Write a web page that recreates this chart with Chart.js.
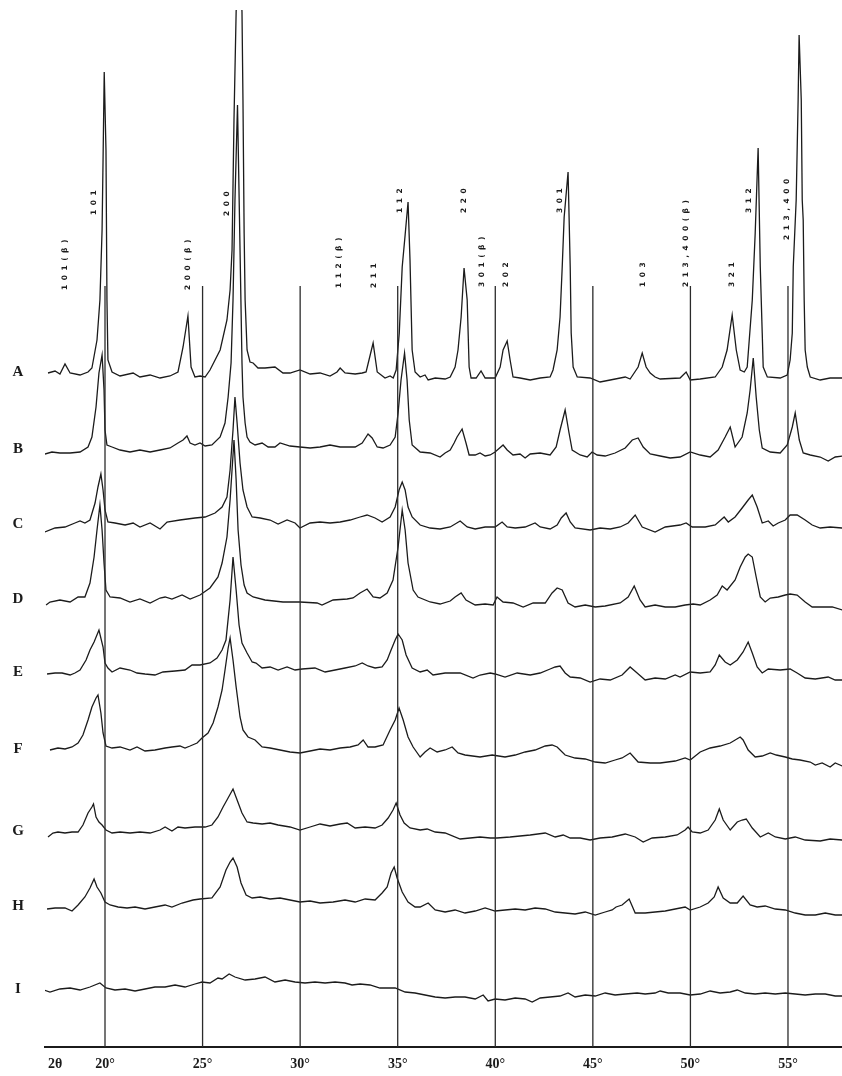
<!DOCTYPE html>
<html>
<head>
<meta charset="utf-8">
<script src="https://cdn.jsdelivr.net/npm/chart.js@4.4.0/dist/chart.umd.min.js"></script>
<style>
  html, body { margin: 0; background: #fff; }
  #xrd { display: block; }
</style>
</head>
<body>
<canvas id="xrd" width="842" height="1076"></canvas>
<script>
// X-ray diffraction patterns A–I, stacked; counts (arbitrary units)

const sampleNames = ['A', 'B', 'C', 'D', 'E', 'F', 'G', 'H', 'I'];
const offsets     = [674, 597, 522, 447, 374, 297, 215, 140, 57];

const gridAngles = [20, 25, 30, 35, 40, 45, 50, 55];
const gridTop    = 761;
const tickAngles = [17.44, 20, 25, 30, 35, 40, 45, 50, 55];

const peakNames  = ['101(β)', '101', '200(β)', '200', '112(β)', '211', '112', '220', '301(β)', '202',
                    '301', '103', '213,400(β)', '321', '312', '213,400'];
const peakAngles = [17.95, 19.44, 24.25, 26.25, 32.0, 33.79, 35.12, 38.40, 39.33, 40.56,
                    43.32, 47.58, 49.78, 52.14, 53.01, 54.96];
const peakLevels = [757, 832, 757, 831, 759, 759, 834, 834, 760, 760,
                    834, 760, 760, 760, 834, 807];

// [2θ, counts]
const scanA = [[17.08,0],[17.44,2],[17.69,-1],[17.95,9],[18.21,0],[18.72,-2],[19.13,1],[19.33,5],[19.59,33],[19.74,73],
  [19.85,143],[19.90,213],[19.96,301],[20.05,223],[20.10,73],[20.15,13],[20.36,1],[20.77,-3],[21.44,0],[21.79,-4],
  [22.31,-2],[22.82,-5],[23.33,-3],[23.74,1],[24.00,26],[24.25,57],[24.41,6],[24.61,-4],[24.87,-3],[25.13,-4],
  [25.38,3],[25.90,23],[26.25,53],[26.41,83],[26.51,123],[26.61,253],[26.72,361],[26.87,433],[27.02,361],[27.07,273],
  [27.13,140],[27.18,73],[27.28,23],[27.43,11],[27.59,10],[27.84,5],[28.20,5],[28.71,6],[29.12,0],[29.48,0],
  [29.99,3],[30.51,-1],[31.02,0],[31.53,-3],[31.89,1],[32.05,5],[32.30,0],[32.82,-1],[33.18,0],[33.38,1],
  [33.59,18],[33.74,30],[33.95,1],[34.35,-5],[34.61,-3],[34.77,-5],[34.92,3],[35.08,40],[35.23,106],[35.38,138],
  [35.53,171],[35.63,113],[35.74,23],[35.89,1],[36.15,-4],[36.40,-2],[36.56,-7],[36.92,-5],[37.43,-6],[37.69,-4],
  [37.94,6],[38.09,23],[38.25,56],[38.40,105],[38.56,73],[38.66,6],[38.76,-5],[39.02,-5],[39.27,2],[39.48,-5],
  [39.99,-5],[40.25,6],[40.40,23],[40.61,32],[40.76,13],[40.91,-4],[41.27,-5],[41.79,-7],[42.30,-5],[42.81,-4],
  [42.96,3],[43.17,23],[43.32,56],[43.43,106],[43.53,156],[43.73,201],[43.84,106],[43.89,40],[43.99,6],[44.20,-4],
  [44.86,-5],[45.37,-9],[45.89,-7],[46.66,-4],[46.91,-6],[47.32,6],[47.53,20],[47.73,6],[47.94,0],[48.19,-4],
  [48.45,-6],[49.47,-5],[49.78,1],[49.99,-7],[50.50,-6],[51.27,-4],[51.63,6],[51.88,23],[52.14,58],[52.35,23],
  [52.55,3],[52.76,1],[52.91,6],[53.17,73],[53.32,140],[53.47,225],[53.58,106],[53.68,40],[53.73,6],[53.94,-4],
  [54.60,-5],[54.96,-2],[55.11,13],[55.22,40],[55.27,106],[55.42,173],[55.52,273],[55.57,338],[55.68,273],[55.73,173],
  [55.78,153],[55.83,73],[55.88,23],[55.99,6],[56.14,-4],[56.65,-7],[57.16,-5],[57.78,-5]];

const scanB = [[16.92,-4],[17.28,-2],[17.69,-3],[18.21,-3],[18.72,-2],[19.13,3],[19.33,13],[19.54,43],[19.69,77],[19.85,95],
  [19.95,60],[20.00,20],[20.10,5],[20.36,3],[20.77,0],[21.28,-2],[21.79,0],[22.31,-2],[22.82,0],[23.33,2],
  [23.74,7],[24.00,10],[24.20,14],[24.36,7],[24.61,5],[24.87,7],[25.13,4],[25.48,5],[25.90,13],[26.15,27],
  [26.31,53],[26.46,87],[26.56,150],[26.66,250],[26.79,345],[26.92,200],[27.02,87],[27.07,53],[27.18,27],[27.28,13],
  [27.43,8],[27.69,5],[28.05,7],[28.36,3],[28.71,3],[28.97,7],[29.48,4],[29.99,3],[30.51,2],[31.02,3],
  [31.53,5],[32.05,3],[32.82,3],[33.18,7],[33.48,16],[33.69,12],[33.95,3],[34.25,2],[34.61,5],[34.87,13],
  [35.02,37],[35.17,70],[35.35,97],[35.48,70],[35.59,30],[35.74,5],[36.15,-2],[36.66,-3],[37.17,-7],[37.43,-3],
  [37.69,0],[37.89,7],[38.04,13],[38.30,21],[38.50,7],[38.66,-5],[38.97,-5],[39.22,-3],[39.48,-6],[39.74,-5],
  [39.99,-2],[40.40,5],[40.61,0],[40.91,-5],[41.27,-4],[41.53,-8],[41.79,-4],[42.30,-3],[42.81,-5],[43.12,3],
  [43.32,20],[43.58,40],[43.78,17],[43.94,0],[44.35,-5],[44.71,-7],[44.96,-2],[45.22,-5],[45.63,-6],[46.14,-3],
  [46.66,2],[47.02,10],[47.32,12],[47.58,3],[47.94,-4],[48.45,-6],[48.96,-8],[49.47,-7],[49.99,-2],[50.50,-5],
  [51.01,-7],[51.42,0],[51.78,13],[52.04,23],[52.29,3],[52.65,13],[52.91,37],[53.06,60],[53.22,92],[53.37,53],
  [53.53,20],[53.68,2],[54.09,-2],[54.60,-3],[54.96,5],[55.22,23],[55.37,37],[55.58,10],[55.78,-3],[56.14,-5],
  [56.65,-7],[57.06,-11],[57.42,-7],[57.78,-6]];

const scanC = [[16.92,-7],[17.44,-3],[17.95,-2],[18.46,2],[18.72,4],[18.97,2],[19.23,5],[19.49,22],[19.64,38],[19.79,51],
  [19.90,35],[20.00,15],[20.15,3],[20.51,2],[21.03,0],[21.44,2],[21.79,-2],[22.31,2],[22.82,-4],[23.18,3],
  [23.84,5],[24.61,7],[25.13,8],[25.64,12],[26.00,18],[26.25,28],[26.41,55],[26.56,95],[26.66,128],[26.77,102],
  [26.92,62],[27.07,35],[27.28,18],[27.54,8],[27.95,7],[28.46,5],[28.87,1],[29.33,5],[29.74,2],[29.99,-3],
  [30.51,2],[31.02,3],[31.53,2],[32.05,3],[32.56,5],[33.07,8],[33.43,10],[33.84,7],[34.20,3],[34.61,8],
  [34.87,18],[35.07,35],[35.23,43],[35.38,35],[35.53,18],[35.74,8],[36.15,0],[36.66,-3],[37.17,-4],[37.69,-2],
  [38.20,4],[38.56,-2],[38.97,-4],[39.48,-2],[39.99,-2],[40.35,3],[40.61,-2],[41.02,-3],[41.53,-2],[42.04,2],
  [42.30,-2],[42.81,-4],[43.17,0],[43.38,7],[43.63,12],[43.84,3],[44.09,-3],[44.86,-5],[45.37,-3],[45.89,-4],
  [46.40,-2],[46.81,2],[47.17,10],[47.53,-2],[48.19,-7],[48.71,-2],[49.47,0],[49.78,2],[50.09,-2],[50.76,-2],
  [51.27,0],[51.73,8],[51.94,3],[52.29,8],[52.65,17],[52.96,25],[53.17,30],[53.42,18],[53.68,2],[53.99,4],
  [54.24,-1],[54.50,2],[54.86,5],[55.11,10],[55.47,10],[55.88,5],[56.24,0],[56.65,-3],[57.16,-2],[57.78,-3]];

const scanD = [[16.98,-5],[17.18,-2],[17.69,0],[18.21,-2],[18.62,3],[18.97,3],[19.23,17],[19.44,43],[19.59,70],[19.74,95],
  [19.85,70],[19.95,37],[20.05,10],[20.26,3],[20.77,2],[21.28,-2],[21.79,1],[22.31,-3],[22.82,2],[23.08,3],
  [23.43,1],[23.95,5],[24.36,1],[24.87,5],[25.38,12],[25.79,23],[26.00,37],[26.25,63],[26.41,100],[26.51,130],
  [26.61,160],[26.72,120],[26.82,70],[26.97,35],[27.13,15],[27.28,7],[27.59,3],[28.20,0],[29.12,-2],[29.99,-2],
  [30.87,-3],[31.12,-5],[31.69,0],[32.41,1],[32.71,2],[33.07,7],[33.43,11],[33.74,3],[34.09,2],[34.46,7],
  [34.76,20],[35.02,53],[35.23,90],[35.38,70],[35.53,37],[35.79,10],[36.04,3],[36.66,-2],[37.17,-4],[37.69,-1],
  [37.94,3],[38.25,7],[38.50,0],[38.97,-5],[39.48,-4],[39.89,-5],[40.09,3],[40.40,-2],[40.91,-3],[41.43,-7],
  [41.94,-3],[42.56,-3],[42.91,7],[43.17,12],[43.43,10],[43.73,-3],[44.09,-7],[44.61,-5],[45.12,-7],[45.63,-6],
  [46.40,-3],[46.81,3],[47.12,14],[47.42,0],[47.68,-7],[48.19,-5],[48.71,-7],[49.22,-7],[49.73,-5],[50.14,-4],
  [50.50,-5],[51.01,0],[51.37,5],[51.63,14],[51.88,10],[52.29,20],[52.55,33],[52.81,43],[52.96,46],[53.17,43],
  [53.37,23],[53.58,3],[53.83,-2],[54.09,2],[54.50,3],[54.86,5],[55.11,6],[55.47,5],[55.88,-2],[56.24,-7],
  [56.91,-7],[57.27,-7],[57.78,-10]];

const scanE = [[17.03,-1],[17.44,0],[17.80,0],[18.21,-2],[18.46,0],[18.72,3],[19.03,13],[19.23,23],[19.44,31],[19.69,43],
  [19.90,26],[20.00,10],[20.15,5],[20.36,1],[20.77,5],[21.28,3],[21.64,0],[22.05,-1],[22.56,-2],[22.97,1],
  [23.59,2],[24.10,3],[24.46,8],[24.87,8],[25.38,10],[25.74,15],[26.00,23],[26.20,33],[26.41,73],[26.56,116],
  [26.72,83],[26.87,48],[27.02,30],[27.28,20],[27.54,11],[27.74,10],[28.05,5],[28.46,6],[28.87,3],[29.33,6],
  [29.74,3],[30.10,4],[30.76,5],[31.28,1],[31.79,3],[32.30,5],[32.82,7],[33.18,10],[33.48,7],[33.84,5],
  [34.20,6],[34.46,13],[34.66,23],[34.87,33],[35.02,39],[35.23,33],[35.43,18],[35.74,5],[36.15,1],[36.51,3],
  [36.81,-2],[37.43,0],[38.20,0],[38.86,-5],[39.22,-2],[39.74,0],[39.99,-1],[40.50,-4],[41.12,0],[41.79,-2],
  [42.30,0],[42.81,4],[43.07,6],[43.32,7],[43.58,0],[43.84,-4],[44.35,-5],[44.86,-9],[45.37,-6],[45.89,-7],
  [46.50,-2],[46.91,6],[47.27,0],[47.68,-7],[48.19,-5],[48.71,-6],[49.22,-2],[49.47,-4],[49.99,1],[50.50,0],
  [51.01,1],[51.27,8],[51.48,18],[51.78,11],[52.04,8],[52.40,13],[52.70,21],[52.96,31],[53.17,20],[53.42,6],
  [53.68,0],[53.99,4],[54.60,3],[55.11,4],[55.47,0],[55.88,-5],[56.40,-6],[57.06,-4],[57.42,-7],[57.78,-7]];

const scanF = [[17.18,0],[17.59,2],[17.95,1],[18.31,3],[18.62,7],[18.87,15],[19.13,30],[19.33,43],[19.54,52],[19.64,55],
  [19.79,37],[19.90,17],[20.05,4],[20.36,2],[20.77,3],[21.28,0],[21.64,3],[22.05,-1],[22.56,0],[23.08,2],
  [23.43,3],[23.84,4],[24.10,2],[24.36,4],[24.72,7],[24.97,12],[25.28,17],[25.54,27],[25.79,43],[26.00,60],
  [26.15,80],[26.31,102],[26.41,112],[26.56,90],[26.72,63],[26.92,33],[27.07,20],[27.33,13],[27.69,10],[28.05,3],
  [28.46,2],[28.97,0],[29.48,-2],[29.99,-3],[30.51,-1],[31.02,1],[31.53,0],[32.05,2],[32.56,3],[32.97,5],
  [33.23,10],[33.48,3],[33.84,3],[34.25,5],[34.61,20],[34.87,30],[35.07,42],[35.28,30],[35.53,13],[35.79,3],
  [36.15,-7],[36.40,-2],[36.66,2],[37.02,-2],[37.43,0],[37.79,3],[38.09,-3],[38.45,-5],[39.22,-7],[39.84,-5],
  [40.50,-7],[41.02,-5],[41.53,-2],[42.04,0],[42.56,4],[42.91,5],[43.17,3],[43.58,-5],[44.09,-8],[44.61,-9],
  [45.12,-12],[45.63,-13],[46.14,-10],[46.50,-8],[46.91,-3],[47.32,-12],[47.94,-13],[48.45,-13],[49.22,-11],[49.73,-8],
  [49.99,-10],[50.50,-2],[51.01,2],[51.52,4],[52.04,7],[52.55,13],[52.70,10],[52.96,0],[53.32,-7],[53.68,-6],
  [54.09,-3],[54.40,-5],[54.86,-7],[55.22,-9],[55.62,-10],[56.14,-12],[56.40,-15],[56.75,-13],[57.16,-17],[57.42,-13],
  [57.78,-16]];

const scanG = [[17.08,-5],[17.33,-1],[17.59,0],[17.95,-1],[18.31,0],[18.62,0],[18.87,7],[19.13,19],[19.33,25],[19.41,28],
  [19.54,15],[19.69,10],[19.85,7],[20.05,2],[20.36,-1],[20.77,0],[21.28,-1],[21.79,0],[22.31,-1],[22.82,2],
  [23.08,5],[23.43,1],[23.74,5],[24.10,4],[24.61,5],[25.13,5],[25.48,7],[25.79,15],[26.05,25],[26.25,32],
  [26.56,43],[26.77,32],[27.02,19],[27.28,10],[27.59,9],[28.05,8],[28.46,9],[28.87,7],[29.48,5],[29.99,2],
  [30.51,5],[31.02,8],[31.53,6],[32.05,8],[32.41,9],[32.82,4],[33.33,5],[33.84,4],[34.20,7],[34.51,14],
  [34.76,22],[34.92,29],[35.12,17],[35.33,9],[35.63,4],[36.15,2],[36.51,3],[36.92,0],[37.43,-1],[38.20,-7],
  [38.71,-6],[39.22,-5],[39.74,-6],[40.09,-6],[40.76,-5],[41.27,-4],[41.79,-3],[42.56,-1],[43.07,-5],[43.48,-3],
  [43.84,-6],[44.35,-6],[44.86,-8],[45.37,-6],[45.99,-5],[46.66,-2],[47.17,-5],[47.58,-10],[48.04,-6],[48.71,-5],
  [49.32,-3],[49.73,2],[49.88,5],[50.09,0],[50.50,-1],[50.91,2],[51.27,12],[51.48,23],[51.68,12],[52.04,2],
  [52.40,10],[52.65,12],[52.86,13],[53.17,4],[53.58,-5],[53.99,-1],[54.35,-5],[54.86,-7],[55.37,-5],[55.88,-8],
  [56.65,-9],[57.16,-7],[57.78,-8]];

const scanH = [[17.03,-2],[17.44,-1],[17.95,-1],[18.31,-4],[18.62,2],[18.97,10],[19.23,19],[19.44,28],[19.59,20],[19.79,14],
  [20.00,5],[20.26,2],[20.67,0],[21.13,-1],[21.54,0],[22.05,-2],[22.56,0],[23.08,2],[23.43,0],[23.95,4],
  [24.51,7],[24.87,8],[25.48,9],[25.90,20],[26.20,37],[26.41,45],[26.56,49],[26.77,40],[26.97,24],[27.23,12],
  [27.54,9],[27.95,10],[28.46,8],[28.97,9],[29.48,7],[29.99,5],[30.51,6],[31.02,4],[31.69,5],[32.30,7],
  [32.82,5],[33.33,8],[33.84,7],[34.20,14],[34.46,20],[34.66,34],[34.82,40],[34.97,29],[35.23,15],[35.53,5],
  [35.89,0],[36.15,0],[36.56,4],[36.92,-3],[37.43,-5],[37.94,-3],[38.45,-6],[38.97,-4],[39.48,-1],[39.99,-4],
  [40.50,-3],[41.02,-2],[41.53,-3],[42.04,-1],[42.56,-2],[43.07,-5],[43.58,-6],[44.09,-7],[44.61,-5],[45.12,-8],
  [45.63,-5],[45.99,-3],[46.19,0],[46.50,2],[46.86,8],[47.17,-6],[47.68,-6],[48.19,-5],[48.71,-4],[49.22,-2],
  [49.73,0],[49.99,-3],[50.50,0],[50.91,4],[51.22,10],[51.42,20],[51.68,9],[52.04,4],[52.40,4],[52.70,11],
  [53.06,2],[53.42,0],[53.83,1],[54.35,-2],[54.86,-3],[55.37,-6],[55.88,-8],[56.40,-8],[56.91,-6],[57.42,-8],
  [57.78,-8]];

const scanI = [[16.87,0],[17.18,-2],[17.69,1],[18.21,2],[18.72,0],[19.23,3],[19.74,7],[20.05,2],[20.51,0],[21.03,1],
  [21.54,-1],[22.05,1],[22.56,3],[23.08,3],[23.59,5],[24.10,3],[24.61,6],[24.97,8],[25.38,7],[25.79,12],
  [26.00,11],[26.36,16],[26.66,13],[27.18,10],[27.69,11],[28.20,13],[28.71,8],[29.23,10],[29.74,8],[30.25,7],
  [30.76,8],[31.28,7],[31.79,8],[32.30,7],[32.66,5],[33.07,6],[33.58,5],[34.09,2],[34.87,2],[35.38,-2],
  [35.89,-3],[36.40,-5],[36.92,-7],[37.43,-8],[37.94,-7],[38.45,-7],[38.97,-9],[39.38,-5],[39.63,-11],[39.99,-9],
  [40.50,-10],[41.02,-8],[41.53,-9],[41.89,-12],[42.30,-8],[42.81,-7],[43.32,-6],[43.73,-3],[44.09,-7],[44.61,-5],
  [45.12,-6],[45.63,-3],[46.14,-5],[46.66,-4],[47.27,-3],[47.68,-4],[48.19,-3],[48.45,-1],[48.86,-3],[49.47,-3],
  [49.99,-5],[50.50,-4],[51.01,-1],[51.52,-3],[52.04,-2],[52.40,0],[52.81,-3],[53.32,-4],[53.83,-3],[54.35,-4],
  [54.86,-3],[55.37,-4],[55.88,-5],[56.40,-4],[56.91,-4],[57.42,-6],[57.78,-6]];

const scans = [scanA, scanB, scanC, scanD, scanE, scanF, scanG, scanH, scanI];

const INK = '#1b1b1b';
const SERIF = '"Liberation Serif", "DejaVu Serif", serif';

const traceSets = scans.map((scan, i) => ({
  label: sampleNames[i],
  data: scan.map(([t, c]) => ({ x: t, y: offsets[i] + c })),
  borderColor: INK,
  borderWidth: 1.3,
  pointRadius: 0,
  tension: 0,
  fill: false,
}));

const gridSets = gridAngles.map(a => ({
  label: a + '°',
  data: [{ x: a, y: 0 }, { x: a, y: gridTop }],
  borderColor: '#2b2b2b',
  borderWidth: 1.3,
  pointRadius: 0,
  fill: false,
}));

// sample letters and the rotated reflection indices
const annotate = {
  id: 'annotate',
  afterDatasetsDraw(chart) {
    const { ctx, scales: { x, y } } = chart;
    ctx.save();
    ctx.fillStyle = INK;
    ctx.font = 'bold 15px ' + SERIF;
    ctx.textAlign = 'center';
    ctx.textBaseline = 'middle';
    sampleNames.forEach((n, i) => ctx.fillText(n, 18, y.getPixelForValue(offsets[i]) - 1));

    ctx.font = 'bold 7.5px "DejaVu Sans", sans-serif';
    ctx.textAlign = 'left';
    if ('letterSpacing' in ctx) ctx.letterSpacing = '4.5px';
    peakNames.forEach((n, i) => {
      ctx.save();
      ctx.translate(x.getPixelForValue(peakAngles[i]), y.getPixelForValue(peakLevels[i]));
      ctx.rotate(-Math.PI / 2);
      ctx.fillText(n, 0, 0);
      ctx.restore();
    });
    ctx.restore();
  }
};

new Chart(document.getElementById('xrd'), {
  type: 'line',
  data: { datasets: [...gridSets, ...traceSets] },
  options: {
    responsive: false,
    animation: false,
    events: [],
    layout: { padding: { top: 10, left: 45, right: 0, bottom: 0 } },
    plugins: { legend: { display: false }, tooltip: { enabled: false } },
    scales: {
      x: {
        type: 'linear',
        min: 16.925,
        max: 57.768,
        afterBuildTicks: s => { s.ticks = tickAngles.map(v => ({ value: v })); },
        afterFit: s => { s.height = 29; },
        grid: { display: false, drawTicks: false },
        border: { display: true, color: INK, width: 2 },
        ticks: {
          autoSkip: false,
          maxRotation: 0,
          padding: 9,
          color: INK,
          font: { family: SERIF, size: 14, weight: 'bold' },
          callback: v => (v < 19 ? '2θ' : v + '°'),
        },
      },
      y: {
        type: 'linear',
        display: false,
        min: 0,
        max: 1037,
      },
    },
  },
  plugins: [annotate],
});
</script>
</body>
</html>
